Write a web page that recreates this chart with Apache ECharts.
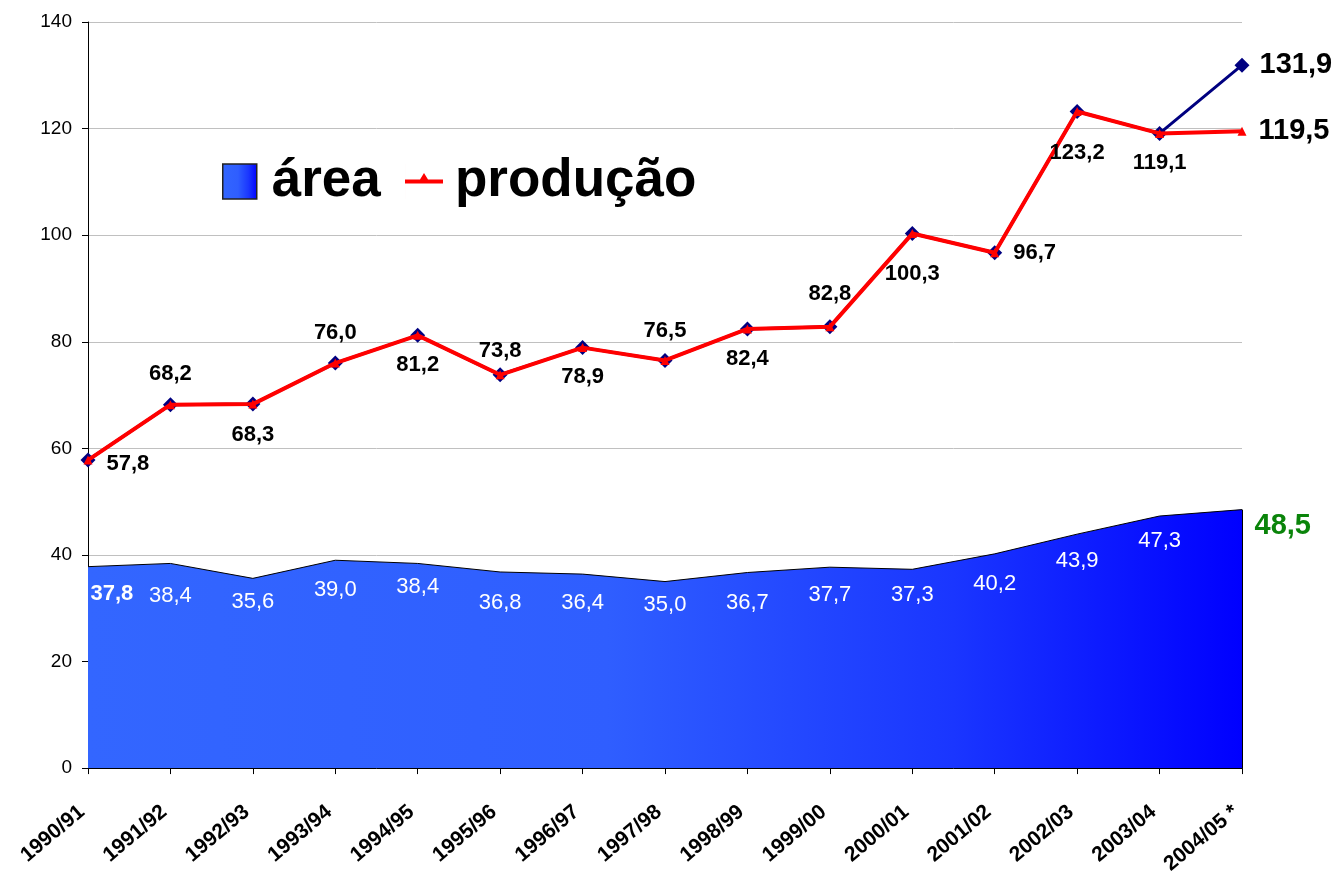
<!DOCTYPE html>
<html>
<head>
<meta charset="utf-8">
<script src="https://cdn.jsdelivr.net/npm/echarts@6/dist/echarts.min.js"></script>
<style>
  html, body { margin: 0; padding: 0; background: #fff; }
  #chart { width: 1336px; height: 877px; }
</style>
</head>
<body>
<div id="chart"></div>
<script>
// safras
const categorias = ['1990/91', '1991/92', '1992/93', '1993/94', '1994/95', '1995/96', '1996/97', '1997/98',
    '1998/99', '1999/00', '2000/01', '2001/02', '2002/03', '2003/04', '2004/05 *'];

// área plantada
const area = [37.8, 38.4, 35.6, 39.0, 38.4, 36.8, 36.4, 35.0, 36.7, 37.7, 37.3, 40.2, 43.9, 47.3, 48.5];

// produção (linha vermelha) e estimativa alternativa (linha azul)
const producao = [57.8, 68.2, 68.3, 76.0, 81.2, 73.8, 78.9, 76.5, 82.4, 82.8, 100.3, 96.7, 123.2, 119.1, 119.5];
const producaoAlt = [57.8, 68.2, 68.3, 76.0, 81.2, 73.8, 78.9, 76.5, 82.4, 82.8, 100.3, 96.7, 123.2, 119.1, 131.9];

const yTicks = { min: 0, max: 140, interval: 20 };

// onde fica cada rótulo
const prodLabelPos = ['right', 'top', 'bottom', 'top', 'bottom', 'top', 'bottom', 'top',
    'bottom', 'top', 'bottom', 'right', 'bottom', 'bottom', 'right'];
const prodLabelGap = [14, 15, 15, 15, 14, 8, 14, 14, 14, 17, 25, 14, 26, 14, 12];
const areaLabelDy = [27, 32, 24, 30, 23, 31, 29, 23, 30, 28, 26, 30, 27, 25, 16];

const FONT = '"Liberation Sans", Arial, sans-serif';
const fmt = v => v.toFixed(1).replace('.', ',');

let chart = echarts.init(document.getElementById('chart'), null, { renderer: 'canvas' });

const areaFill = new echarts.graphic.LinearGradient(0, 0, 1, 0, [
    { offset: 0, color: '#3366ff' },
    { offset: 0.45, color: '#2f5eff' },
    { offset: 0.75, color: '#1a36ff' },
    { offset: 1, color: '#0000ff' }
]);

const areaData = area.map(function (v, i) {
    let last = i === area.length - 1;
    let first = i === 0;
    return {
        value: v,
        label: {
            position: (first || last) ? 'right' : 'inside',
            distance: first ? 2 : 12,
            offset: [0, areaLabelDy[i]],
            color: last ? '#0a840a' : '#fff',
            fontWeight: (first || last) ? 'bold' : 'normal',
            fontSize: last ? 29 : 22
        }
    };
});

const prodData = producao.map(function (v, i) {
    let last = i === producao.length - 1;
    return {
        value: v,
        label: {
            position: prodLabelPos[i],
            distance: prodLabelGap[i],
            fontSize: last ? 29 : 22,
            offset: i === 0 ? [0, 4] : [0, 0]
        }
    };
});

const altData = producaoAlt.map(function (v, i) {
    let last = i === producaoAlt.length - 1;
    return {
        value: v,
        label: { show: last, position: 'right', distance: 10, fontSize: 29 }
    };
});

const lastIdx = categorias.length - 1;

option = {
    backgroundColor: '#fff',
    animation: false,
    textStyle: { fontFamily: FONT },
    grid: {
        left: 88,
        right: 94,
        top: 22,
        bottom: 107
    },
    legend: [{
        left: 222,
        top: 155,
        padding: 0,
        selectedMode: false,
        itemWidth: 34,
        itemHeight: 35,
        data: [{
            name: 'área',
            icon: 'rect',
            itemStyle: { color: areaFill, borderColor: '#222', borderWidth: 1.5 }
        }],
        textStyle: { fontSize: 53, fontWeight: 'bold', color: '#000', fontFamily: FONT, padding: [0, 0, 0, 10] }
    }, {
        left: 405,
        top: 155,
        padding: 0,
        selectedMode: false,
        itemWidth: 38,
        itemHeight: 35,
        data: [{
            name: 'produção',
            icon: 'path://M0,15.5 L38,15.5 L38,19.5 L0,19.5 Z M15,15.5 L19,9 L23,15.5 Z M0,0 L0.01,0 L0.01,35 L0,35 Z',
            itemStyle: { color: '#ff0000', borderWidth: 0 }
        }],
        textStyle: { fontSize: 53, fontWeight: 'bold', color: '#000', fontFamily: FONT, padding: [0, 0, 0, 7] }
    }],
    xAxis: {
        type: 'category',
        boundaryGap: false,
        data: categorias,
        axisLine: { lineStyle: { color: '#000', width: 1 } },
        axisTick: { show: true, length: 6, lineStyle: { color: '#000' } },
        splitLine: { show: false },
        axisLabel: {
            rotate: 40,
            margin: 36,
            interval: 0,
            color: '#000',
            fontSize: 21,
            fontWeight: 'bold',
            fontFamily: FONT,
            padding: [0, 8, 0, 0]
        }
    },
    yAxis: {
        type: 'value',
        min: yTicks.min,
        max: yTicks.max,
        interval: yTicks.interval,
        axisLine: { show: true, lineStyle: { color: '#000', width: 1 } },
        axisTick: { show: true, length: 6, lineStyle: { color: '#000' } },
        splitLine: { show: true, lineStyle: { color: '#c0c0c0', width: 1 } },
        axisLabel: { margin: 16, color: '#000', fontSize: 19, fontFamily: FONT }
    },
    series: [{
        name: 'área',
        type: 'line',
        data: areaData,
        symbol: 'circle',
        symbolSize: 1,
        itemStyle: { color: 'rgba(0,0,0,0)' },
        lineStyle: { color: '#000', width: 1 },
        areaStyle: { color: areaFill, opacity: 1 },
        label: {
            show: true,
            formatter: p => fmt(p.value),
            fontFamily: FONT
        },
        // borda direita da área
        markLine: {
            silent: true,
            symbol: 'none',
            label: { show: false },
            lineStyle: { color: '#000', width: 1, type: 'solid' },
            data: [[{ coord: [lastIdx, 0] }, { coord: [lastIdx, area[lastIdx]] }]]
        },
        z: 1
    }, {
        name: 'estimativa',
        type: 'line',
        data: altData,
        symbol: 'diamond',
        symbolSize: 15,
        itemStyle: { color: '#000080' },
        lineStyle: { color: '#000080', width: 3 },
        label: {
            formatter: p => fmt(p.value),
            color: '#000',
            fontWeight: 'bold',
            fontFamily: FONT
        },
        z: 2
    }, {
        name: 'produção',
        type: 'line',
        data: prodData,
        symbol: 'triangle',
        symbolSize: 9,
        itemStyle: { color: '#ff0000' },
        lineStyle: { color: '#ff0000', width: 4 },
        label: {
            show: true,
            formatter: p => fmt(p.value),
            color: '#000',
            fontWeight: 'bold',
            fontFamily: FONT
        },
        z: 3
    }]
};

chart.setOption(option);

window.onresize = function () {
    chart.resize();
}
</script>
</body>
</html>
